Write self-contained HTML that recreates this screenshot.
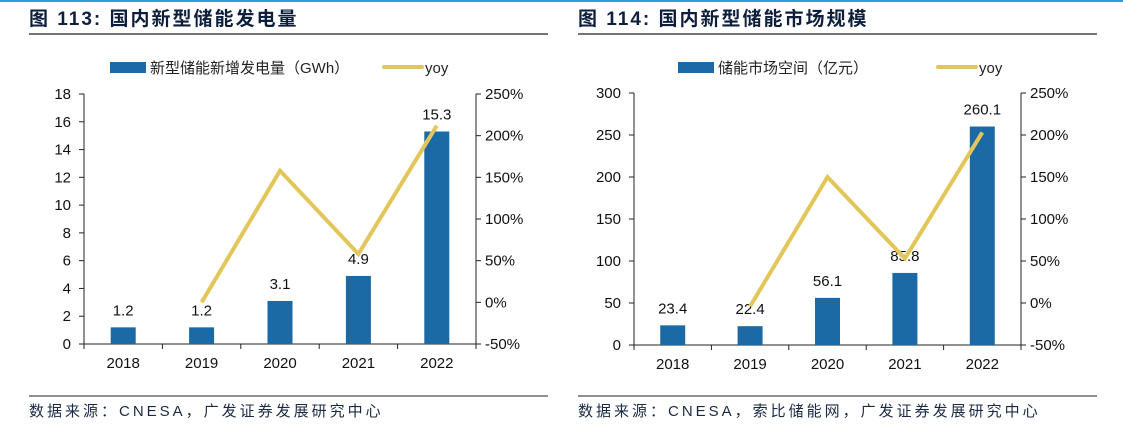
<!DOCTYPE html>
<html><head><meta charset="utf-8"><style>
body{margin:0;width:1123px;height:428px;background:#fff;overflow:hidden;font-family:"Liberation Sans","Noto Sans CJK SC",sans-serif;}
svg text{font-family:"Liberation Sans","Noto Sans CJK SC",sans-serif;}
</style></head><body>
<svg id="s" width="1123" height="428">
<rect x="0" y="0" width="1123" height="2" fill="#2a9fd8"/>
</svg>
<script>
const cats1=["2018","2019","2020","2021","2022"];
const vals1=[1.2,1.2,3.1,4.9,15.3];
const labels1=["1.2","1.2","3.1","4.9","15.3"];
const yoy1=[null,0,158,58,212];
const leftTicks1=[0,2,4,6,8,10,12,14,16,18];
const cats2=["2018","2019","2020","2021","2022"];
const vals2=[23.4,22.4,56.1,85.8,260.1];
const labels2=["23.4","22.4","56.1","85.8","260.1"];
const yoy2=[null,-4,150,53,203];
const leftTicks2=[0,50,100,150,200,250,300];
const rightTicks=[-50,0,50,100,150,200,250];
const NS="http://www.w3.org/2000/svg";
const svg=document.getElementById('s');
function mk(t,a,txt,p){const e=document.createElementNS(NS,t);for(const k in a)e.setAttribute(k,a[k]);if(txt!=null)e.textContent=txt;(p||svg).appendChild(e);return e;}
function chart(o){
  const g=mk('g',{});
  
  
  let e=mk('text',{x:o.tx,y:25,'font-size':19,'font-weight':'bold',fill:'#0d1f3c','letter-spacing':2},o.title,g);
  
  e=mk('line',{x1:o.tx,x2:o.tx+519,y1:34,y2:34,stroke:'#222','stroke-width':1.2},null,g);
  
  e=mk('line',{x1:o.tx,x2:o.tx+519,y1:396,y2:396,stroke:'#222','stroke-width':1},null,g);
  
  e=mk('text',{x:o.tx,y:416,'font-size':15,fill:'#1a2a44','letter-spacing':3},o.source,g);
  
  e=mk('rect',{x:o.lx,y:62,width:36,height:11,fill:'#1b6aa5'},null,g);
  
  e=mk('text',{x:o.lx+40,y:73,'font-size':15,fill:'#222'},o.barName,g);
  
  e=mk('line',{x1:o.yx,x2:o.yx+38,y1:67,y2:67,stroke:'#e3c65a','stroke-width':4,'stroke-linecap':'round'},null,g);
  
  e=mk('text',{x:o.yx+41,y:73,'font-size':15,fill:'#222'},'yoy',g);
  
  const y0=o.y0,y1=o.y1,L=o.ax0,R=o.ax1,n=o.cats.length,bw=(R-L)/n;
  const ys=v=>y0-(v-o.lmin)/(o.lmax-o.lmin)*(y0-y1);
  const yr=v=>y0-(v+50)/300*(y0-y1);
  const xc=i=>L+bw*(i+0.5);
  e=mk('line',{x1:L,x2:L,y1:y1,y2:y0,stroke:'#222'},null,g);
  
  e=mk('line',{x1:R,x2:R,y1:y1,y2:y0,stroke:'#222'},null,g);
  
  e=mk('line',{x1:L-5,x2:R+5,y1:y0,y2:y0,stroke:'#222'},null,g);
  
  o.lt.forEach(t=>{const y=ys(t);
    mk('line',{x1:L-5,x2:L,y1:y,y2:y,stroke:'#222'},null,g);
    e=mk('text',{x:L-13,y:y+5,'font-size':15,'text-anchor':'end',fill:'#111'},String(t),g);
    });
  rightTicks.forEach(t=>{const y=yr(t);
    mk('line',{x1:R,x2:R+5,y1:y,y2:y,stroke:'#222'},null,g);
    e=mk('text',{x:R+9,y:y+5,'font-size':15,fill:'#111'},t+'%',g);
    });
  for(let i=0;i<=n;i++){mk('line',{x1:L+bw*i,x2:L+bw*i,y1:y0,y2:y0+5,stroke:'#222'},null,g);}
  o.cats.forEach((c,i)=>{
    e=mk('text',{x:xc(i),y:y0+24,'font-size':15,'text-anchor':'middle',fill:'#111'},c,g);
    
    const top=ys(o.vals[i]);
    e=mk('rect',{x:xc(i)-12.5,y:top,width:25,height:y0-top,fill:'#1b6aa5'},null,g);
    
    e=mk('text',{x:xc(i),y:top-12,'font-size':15,'text-anchor':'middle',fill:'#111'},o.labels[i],g);
    
  });
  const pts=[];o.yoy.forEach((v,i)=>{if(v!=null)pts.push(xc(i)+','+yr(v));});
  e=mk('polyline',{points:pts.join(' '),fill:'none',stroke:'#e3c65a','stroke-width':4},null,g);
  
}
chart({name:'chart-113',tx:29,title:'图 113:  国内新型储能发电量',source:'数据来源：CNESA，广发证券发展研究中心',
  lx:110,yx:384,barName:'新型储能新增发电量（GWh）',cats:cats1,vals:vals1,labels:labels1,yoy:yoy1,lt:leftTicks1,
  lmin:0,lmax:18,y0:344,y1:94,ax0:84,ax1:476});
chart({name:'chart-114',tx:578,title:'图 114:  国内新型储能市场规模',source:'数据来源：CNESA，索比储能网，广发证券发展研究中心',
  lx:678,yx:938,barName:'储能市场空间（亿元）',cats:cats2,vals:vals2,labels:labels2,yoy:yoy2,lt:leftTicks2,
  lmin:0,lmax:300,y0:345,y1:93,ax0:634,ax1:1021});
</script>
</body></html>
